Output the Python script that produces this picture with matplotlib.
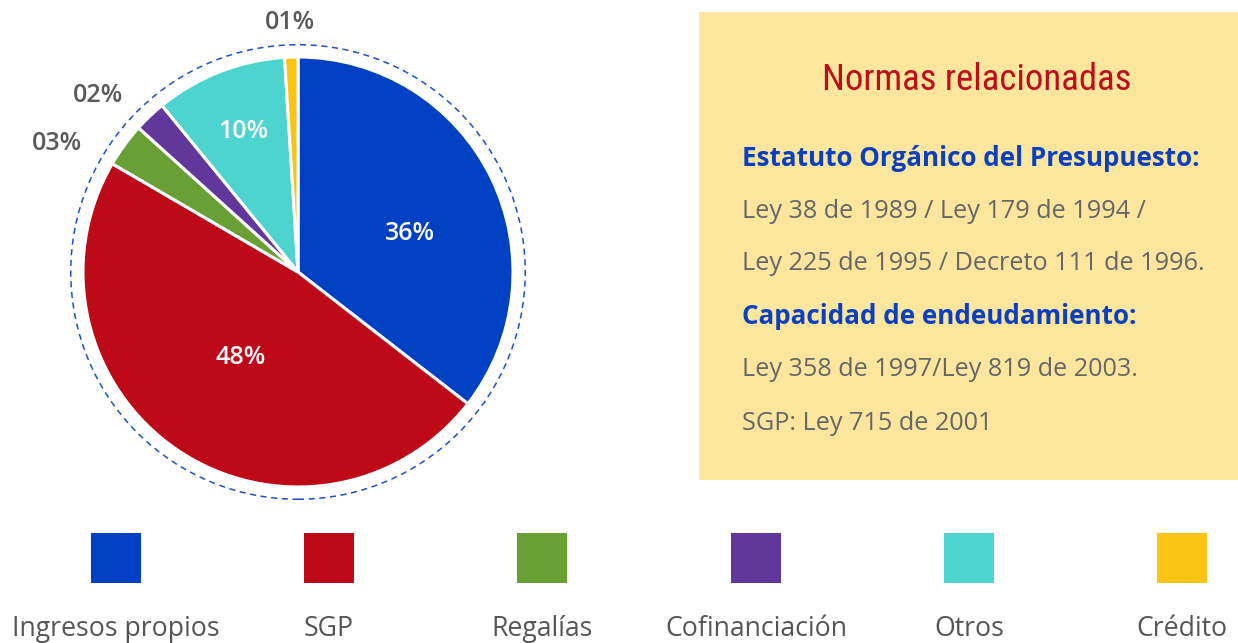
import matplotlib
matplotlib.use("Agg")
import matplotlib.pyplot as plt
import numpy as np
from matplotlib import font_manager
from matplotlib.patches import Rectangle, Circle

categories = ["Ingresos propios", "SGP", "Regalías", "Cofinanciación", "Otros", "Crédito"]
values = [35.5, 47.9, 3.3, 2.4, 9.9, 1.0]
pct_labels = ["36%", "48%", "03%", "02%", "10%", "01%"]
colors = ["#0040C2", "#BE0919", "#68A036", "#61379B", "#4ED4CF", "#FBC312"]

title = "Normas relacionadas"
box_lines = [
    ("Estatuto Orgánico del Presupuesto:", True),
    ("Ley 38 de 1989 / Ley 179 de 1994 /", False),
    ("Ley 225 de 1995 / Decreto 111 de 1996.", False),
    ("Capacidad de endeudamiento:", True),
    ("Ley 358 de 1997/Ley 819 de 2003.", False),
    ("SGP: Ley 715 de 2001", False),
]

names = {f.name for f in font_manager.fontManager.ttflist}
cond = None
for cand in ["Roboto Condensed", "Liberation Sans Narrow", "Open Sans Condensed"]:
    if cand in names:
        cond = cand
        break

W, H = 1238, 643
fig = plt.figure(figsize=(W / 100, H / 100), dpi=100)
fig.patch.set_facecolor("white")

R = 215.0
cx, cy = 298, 272
half = 250
ax = fig.add_axes([(cx - half) / W, (H - cy - half) / H, 2 * half / W, 2 * half / H])

wedges, _ = ax.pie(values, colors=colors, startangle=90, counterclock=False,
                   radius=1.0, wedgeprops=dict(edgecolor="white", linewidth=2.2))
lim = half / R
ax.set_xlim(-lim, lim)
ax.set_ylim(-lim, lim)
ax.set_aspect("equal")
ax.axis("off")
ax.add_patch(Circle((0, 0), 1.057, fill=False, edgecolor="#1F4FCF",
                    linestyle=(0, (4, 3)), linewidth=1.1))

label_r = [0.55, 0.48, 1.27, 1.24, 0.70, 1.163]
label_shift = [-7, 0, 8, 5, 0, 0]  # degrees
inside = [True, True, False, False, True, False]
for w, lab, r, sh, ins in zip(wedges, pct_labels, label_r, label_shift, inside):
    mid = np.deg2rad((w.theta1 + w.theta2) / 2 + sh)
    x, y = r * np.cos(mid), r * np.sin(mid)
    ax.text(x, y, lab, ha="center", va="center", fontsize=18, fontweight="semibold",
            family="Open Sans", color="white" if ins else "#595959")

fig.patches.append(Rectangle((699 / W, (H - 480) / H), (W - 699) / W, 468 / H,
                             transform=fig.transFigure, facecolor="#FCE69E",
                             edgecolor="none", zorder=0))
if cond:
    fig.text(977 / W, 1 - 80 / H, title, ha="center", va="center",
             family=cond, fontsize=26.5, color="#C00D1A")
else:
    fig.text(977 / W, 1 - 80 / H, title, ha="center", va="center",
             family="Roboto", fontsize=22, color="#C00D1A")

ys = [158, 212, 264, 317, 370, 423]
for (txt, bold), y in zip(box_lines, ys):
    fig.text(742 / W, 1 - y / H, txt, ha="left", va="center",
             family="Open Sans", fontsize=18.7 if bold else 18.2,
             fontweight="bold" if bold else "normal",
             color="#0A3FC0" if bold else "#666666")

centers = [116, 329, 542, 756, 969, 1182]
for c, col, name in zip(centers, colors, categories):
    fig.patches.append(Rectangle(((c - 25) / W, (H - 583) / H), 50 / W, 50 / H,
                                 transform=fig.transFigure, facecolor=col,
                                 edgecolor="none"))
    fig.text(c / W, 1 - 629 / H, name, ha="center", va="center",
             family="Open Sans", fontsize=19.2, color="#555555")

fig.savefig("out.png", dpi=100, facecolor="white")
